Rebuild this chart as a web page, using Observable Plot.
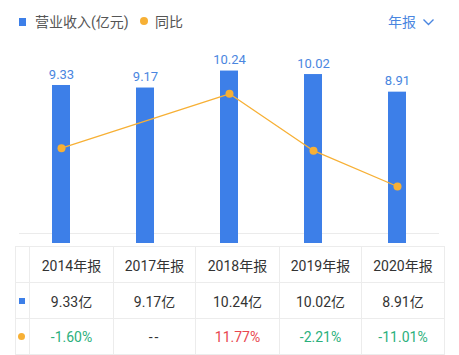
<!DOCTYPE html>
<html>
<head>
<meta charset="utf-8">
<script src="https://cdn.jsdelivr.net/npm/d3@7"></script>
<script src="https://cdn.jsdelivr.net/npm/@observablehq/plot@0.6"></script>
<style>
  html, body { margin: 0; padding: 0; background: #fff; }
  body { width: 459px; height: 355px; position: relative; overflow: hidden;
         font-family: Roboto, "Noto Sans CJK SC", sans-serif; }
  #legend { position: relative; height: 40px; }
  #legend .sw { position: absolute; }
  #legend .lt { position: absolute; top: 13px; font-size: 14px; line-height: 18px; color: #555; }
  #chart { height: 206px; }
  #chart svg { display: block; }
  table { position: absolute; left: 15px; top: 246px; border-collapse: collapse; table-layout: fixed; }
  td { border: 1px solid #ececec; height: 35px; padding: 0; text-align: center;
       font-size: 14px; color: #333; }
</style>
</head>
<body>
<div id="legend">
  <div class="sw" style="left:19px;top:18px;width:7px;height:8px;background:#3d7fe8"></div>
  <div class="lt" style="left:35px">营业收入(亿元)</div>
  <div class="sw" style="left:140px;top:17px;width:8px;height:8px;border-radius:50%;background:#f7b035"></div>
  <div class="lt" style="left:155px">同比</div>
  <div class="lt" style="left:388px;color:#4a86e0">年报</div>
  <svg class="sw" style="left:422px;top:17px" width="13" height="10"><polyline points="1.5,2.5 6.5,7.5 11.5,2.5" fill="none" stroke="#4a86e0" stroke-width="1.4"/></svg>
</div>
<div id="chart"></div>
<script>
const periods = ["2014年报", "2017年报", "2018年报", "2019年报", "2020年报"];
const revenue = [9.33, 9.17, 10.24, 10.02, 8.91];
const yoy = [-1.60, null, 11.77, -2.21, -11.01];

const revDomain = [0, 11];
const pctDomain = [-22.56, 20.31];

const blue = "#3d7fe8", orange = "#f7b035";
const toRev = d3.scaleLinear().domain(pctDomain).range(revDomain);

const bars = periods.map((p, i) => ({period: p, value: revenue[i]}));
const pts = periods.map((p, i) => ({period: p, pct: yoy[i]}))
  .filter(d => d.pct != null)
  .map(d => ({...d, u: toRev(d.pct)}));

const chart = Plot.plot({
  width: 459,
  height: 206,
  marginLeft: 19,
  marginRight: 20,
  marginTop: 18.5,
  marginBottom: 13,
  x: {domain: periods, paddingInner: 0.786, paddingOuter: 0.393, axis: null},
  y: {domain: revDomain, axis: null},
  style: {fontFamily: "Roboto, 'Noto Sans CJK SC', sans-serif", background: "transparent"},
  marks: [
    Plot.ruleY([0], {stroke: "#ebebeb", strokeWidth: 1}),
    Plot.barY(bars, {x: "period", y: "value", fill: blue, insetBottom: -10}),
    Plot.text(bars, {x: "period", y: "value", text: d => d.value.toFixed(2), dy: -11,
                     fill: "#4a86e0", fontSize: 13}),
    Plot.line(pts, {x: "period", y: "u", stroke: orange, strokeWidth: 1.3}),
    Plot.dot(pts, {x: "period", y: "u", r: 4, fill: orange, stroke: "none"})
  ]
});
document.getElementById("chart").appendChild(chart);

// table
const widths = [14, 84, 82, 84, 82, 83];
const table = document.createElement("table");
table.style.width = d3.sum(widths) + "px";
const cg = document.createElement("colgroup");
widths.forEach(w => { const c = document.createElement("col"); c.style.width = w + "px"; cg.appendChild(c); });
table.appendChild(cg);
function row(cells) {
  const tr = document.createElement("tr");
  cells.forEach(c => {
    const td = document.createElement("td");
    if (c.html) td.innerHTML = c.html; else td.textContent = c.text;
    if (c.color) td.style.color = c.color;
    if (c.ls) td.style.letterSpacing = c.ls;
    tr.appendChild(td);
  });
  table.appendChild(tr);
}
row([{text: ""}, ...periods.map(p => ({text: p}))]);
row([{html: '<div style="width:6px;height:6px;background:' + blue + ';margin:0 auto 0 3px"></div>'},
     ...revenue.map(v => ({text: v.toFixed(2) + "亿"}))]);
row([{html: '<div style="width:7px;height:7px;border-radius:50%;background:' + orange + ';margin:0 auto 0 2px"></div>'},
     ...yoy.map(v => v == null ? {text: "--", ls: "2px"} :
       {text: v.toFixed(2) + "%", color: v < 0 ? "#2bb07c" : "#e8474f"})]);
document.body.appendChild(table);
</script>
</body>
</html>
